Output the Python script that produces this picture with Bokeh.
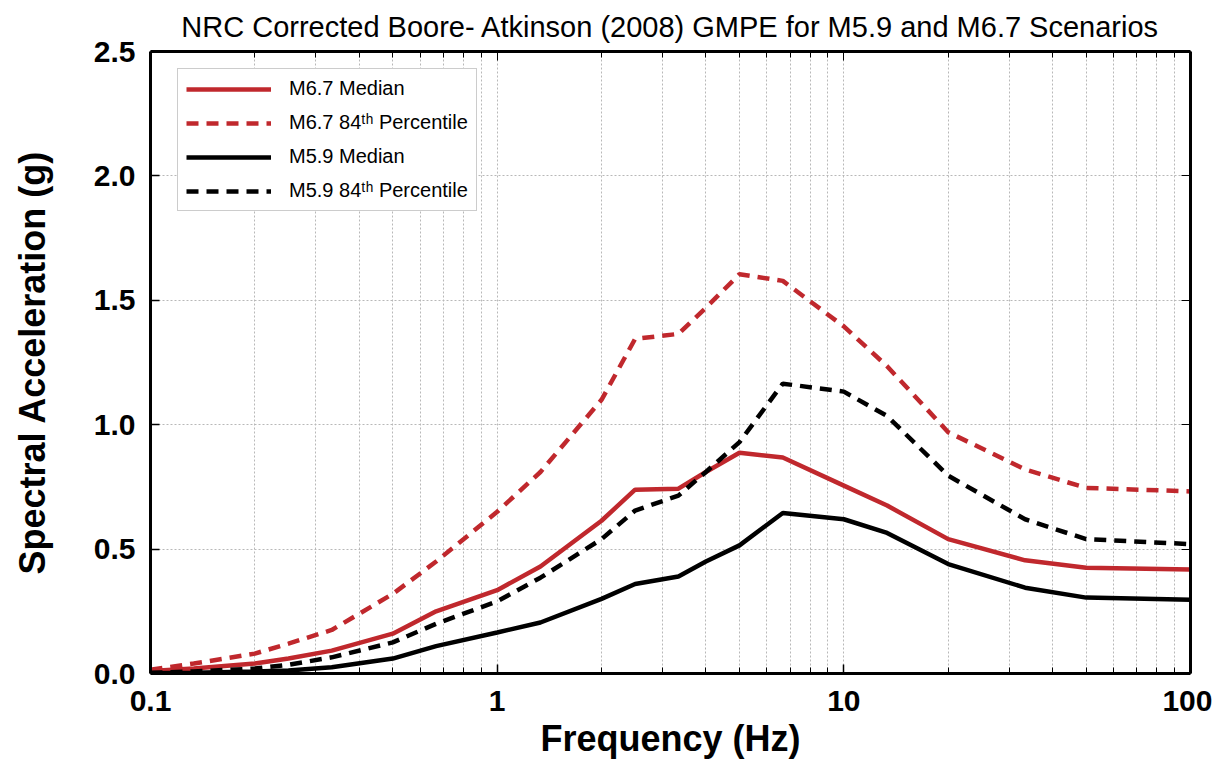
from bokeh.plotting import figure
from bokeh.models import (LogAxis, LinearAxis, FixedTicker, CustomJSTickFormatter,
                          PrintfTickFormatter, Range1d, SingleIntervalTicker)
from bokeh.embed import file_html
from bokeh.resources import INLINE

# ---- data ----
freq = [0.1, 0.1333, 0.2, 0.25, 0.3333, 0.5, 0.6667, 1.0, 1.333, 2.0, 2.5, 3.333,
        4.0, 5.0, 6.667, 10.0, 13.33, 20.0, 33.33, 50.0, 100.0]
m67_median = [0.01, 0.02, 0.04, 0.06, 0.092, 0.16, 0.25, 0.335, 0.43, 0.614, 0.739, 0.743,
              0.81, 0.887, 0.868, 0.755, 0.675, 0.54, 0.455, 0.425, 0.418]
m67_p84 = [0.015, 0.04, 0.08, 0.12, 0.175, 0.32, 0.45, 0.65, 0.81, 1.10, 1.345, 1.365,
           1.47, 1.605, 1.578, 1.395, 1.235, 0.97, 0.82, 0.746, 0.732]
m59_median = [0.001, 0.003, 0.008, 0.012, 0.025, 0.06, 0.11, 0.165, 0.205, 0.30, 0.36, 0.39,
              0.45, 0.515, 0.645, 0.62, 0.565, 0.44, 0.345, 0.305, 0.296]
m59_p84 = [0.003, 0.008, 0.02, 0.035, 0.065, 0.125, 0.20, 0.29, 0.385, 0.54, 0.655, 0.715,
           0.81, 0.93, 1.165, 1.133, 1.035, 0.795, 0.62, 0.54, 0.52]

x_major = [0.1, 1, 10, 100]
x_minor = [0.2, 0.3, 0.4, 0.5, 0.6, 0.7, 0.8, 0.9,
           2, 3, 4, 5, 6, 7, 8, 9,
           20, 30, 40, 50, 60, 70, 80, 90]

labels = ["M6.7 Median", "M6.7 84\u1d57\u02b0 Percentile",
          "M5.9 Median", "M5.9 84\u1d57\u02b0 Percentile"]

RED = "#c0282d"
FONT = "Liberation Sans"

p = figure(width=1212, height=770, x_axis_type="log",
           x_range=Range1d(0.1, 100), y_range=Range1d(0, 2.5),
           output_backend="svg", toolbar_location=None,
           min_border_left=150, min_border_right=22, min_border_top=50, min_border_bottom=97)

p.title.text = "NRC Corrected Boore- Atkinson (2008) GMPE for M5.9 and M6.7 Scenarios"
p.title.text_font = FONT
p.title.text_font_size = "29px"
p.title.text_font_style = "normal"
p.title.text_color = "black"
p.title.align = "center"
p.title.standoff = 17

xticker = FixedTicker(ticks=x_major, minor_ticks=x_minor)
yticker = SingleIntervalTicker(interval=0.5, num_minor_ticks=0)

xa = p.xaxis[0]
xa.ticker = xticker
xa.formatter = CustomJSTickFormatter(code="return tick.toString();")
xa.axis_label = "Frequency (Hz)"
ya = p.yaxis[0]
ya.ticker = yticker
ya.formatter = PrintfTickFormatter(format="%.1f")
ya.axis_label = "Spectral Acceleration (g)"

for ax in (xa, ya):
    ax.axis_line_width = 3
    ax.axis_line_color = "black"
    ax.major_tick_in = 9
    ax.major_tick_out = 0
    ax.minor_tick_in = 6
    ax.minor_tick_out = 0
    ax.major_tick_line_width = 1.5
    ax.minor_tick_line_width = 1
    ax.major_label_text_font = FONT
    ax.major_label_text_font_style = "bold"
    ax.major_label_text_font_size = "30px"
    ax.major_label_text_color = "black"
    ax.axis_label_text_font = FONT
    ax.axis_label_text_font_style = "bold"
    ax.axis_label_text_font_size = "36px"
    ax.axis_label_text_color = "black"

xa.major_label_standoff = 17
xa.axis_label_standoff = 4
ya.major_label_standoff = 15
ya.axis_label_standoff = 38

top = LogAxis(ticker=xticker, formatter=CustomJSTickFormatter(code="return '';"))
right = LinearAxis(ticker=yticker, formatter=CustomJSTickFormatter(code="return '';"))
for ax in (top, right):
    ax.axis_line_width = 3
    ax.major_tick_in = 9
    ax.major_tick_out = 0
    ax.minor_tick_in = 6
    ax.minor_tick_out = 0
    ax.major_label_standoff = 0
    ax.major_label_text_font_size = "1px"
p.add_layout(top, "above")
p.add_layout(right, "right")

p.xgrid.grid_line_color = "#b8b8b8"
p.xgrid.grid_line_dash = "2 2"
p.xgrid.minor_grid_line_color = "#b8b8b8"
p.xgrid.minor_grid_line_dash = "2 2"
p.ygrid.grid_line_color = "#b8b8b8"
p.ygrid.grid_line_dash = "2 2"
p.outline_line_color = None

LW = 4.5
p.line(freq, m67_median, line_color=RED, line_width=LW, legend_label=labels[0])
p.line(freq, m67_p84, line_color=RED, line_width=LW, line_dash="12 8", legend_label=labels[1])
p.line(freq, m59_median, line_color="black", line_width=LW, legend_label=labels[2])
p.line(freq, m59_p84, line_color="black", line_width=LW, line_dash="12 8", legend_label=labels[3])

lg = p.legend[0]
lg.location = (27, 462)
lg.label_text_font = FONT
lg.label_text_font_size = "20px"
lg.label_text_color = "black"
lg.glyph_width = 85
lg.glyph_height = 20
lg.label_height = 20
lg.spacing = 11
lg.padding = 8
lg.margin = 0
lg.label_standoff = 18
lg.border_line_color = "#999999"
lg.border_line_width = 1
lg.background_fill_alpha = 1

open("out.html", "w").write(file_html(p, INLINE))
